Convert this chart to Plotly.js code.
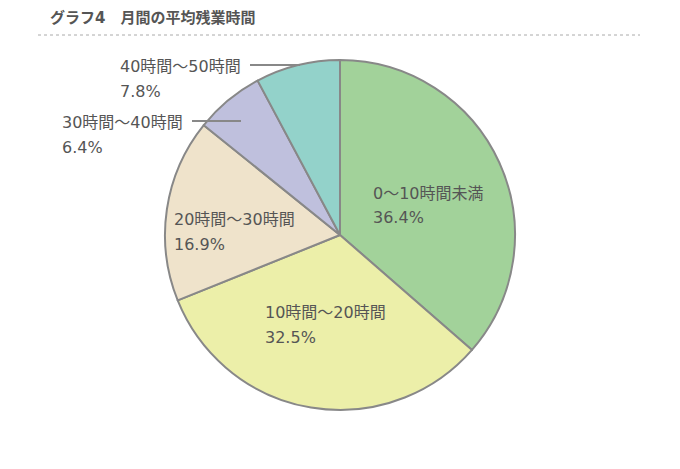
<!DOCTYPE html>
<html>
<head>
<meta charset="utf-8">
<script src="https://cdn.plot.ly/plotly-3.0.1.min.js"></script>
<style>
  html, body { margin: 0; padding: 0; background: #fff; }
  #myPlot { width: 680px; height: 469px; }
</style>
</head>
<body>
<div id="myPlot"></div>
<script>
// 月間の平均残業時間
let categories = ['0〜10時間未満', '10時間〜20時間', '20時間〜30時間', '30時間〜40時間', '40時間〜50時間'];
let shares = [36.4, 32.5, 16.9, 6.4, 7.8];
let sliceColors = ['#a2d29a', '#ecefa9', '#efe3cb', '#bfc0dd', '#93d2ca'];

// label spots (pixels, left edge / first line) and leader lines [x0, x1, y]
let labelSpots = [[373, 193], [265, 312], [174, 219], [62, 122], [120, 66]];
let leaders = [null, null, null, [192, 241, 121], [250, 300, 65]];

let W = 680, H = 469;
let px = x => x / W;
let py = y => 1 - y / H;
let fontFam = '"DejaVu Sans", "Noto Sans CJK JP", sans-serif';

let data1 = [{
  type: 'pie',
  labels: categories,
  values: shares,
  sort: false,
  direction: 'clockwise',
  rotation: 0,
  textinfo: 'none',
  hoverinfo: 'label+percent',
  marker: { colors: sliceColors, line: { color: '#888888', width: 2 } },
  domain: { x: [px(165), px(515)], y: [py(410), py(60)] },
  showlegend: false
}];

let annotations = [];
let shapes = [{
  type: 'line', xref: 'paper', yref: 'paper',
  x0: px(38), x1: px(640), y0: py(35), y1: py(35),
  line: { color: '#aaaaaa', width: 1, dash: 'dot' }
}];

categories.forEach((c, i) => {
  let [lx, ly] = labelSpots[i];
  annotations.push({
    xref: 'paper', yref: 'paper', x: px(lx - 2), y: py(ly),
    xanchor: 'left', yanchor: 'middle', showarrow: false,
    text: c, font: { family: fontFam, size: 16, color: '#555555' }
  });
  annotations.push({
    xref: 'paper', yref: 'paper', x: px(lx - 2), y: py(ly + 25),
    xanchor: 'left', yanchor: 'middle', showarrow: false,
    text: shares[i].toFixed(1) + '%', font: { family: fontFam, size: 16, color: '#555555' }
  });
  if (leaders[i]) {
    let [x0, x1, y] = leaders[i];
    shapes.push({
      type: 'line', xref: 'paper', yref: 'paper',
      x0: px(x0), x1: px(x1), y0: py(y), y1: py(y),
      line: { color: '#888888', width: 2 }
    });
  }
});

annotations.push({
  xref: 'paper', yref: 'paper', x: px(48), y: py(18),
  xanchor: 'left', yanchor: 'middle', showarrow: false,
  text: '<b>グラフ4　月間の平均残業時間</b>',
  font: { family: fontFam, size: 15, color: '#555555' }
});

let layout = {
  width: W,
  height: H,
  margin: { l: 0, r: 0, t: 0, b: 0 },
  paper_bgcolor: '#ffffff',
  annotations: annotations,
  shapes: shapes
};

Plotly.newPlot('myPlot', data1, layout, { staticPlot: true });
</script>
</body>
</html>
